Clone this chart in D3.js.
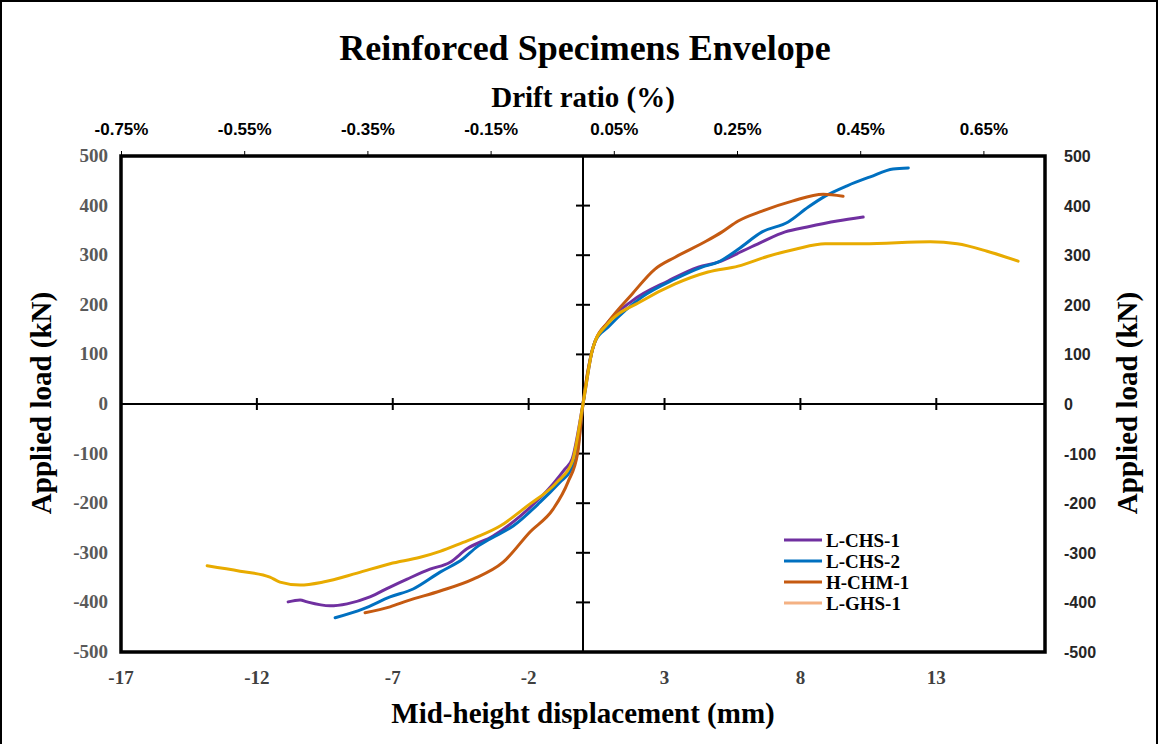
<!DOCTYPE html>
<html>
<head>
<meta charset="utf-8">
<script src="https://cdn.jsdelivr.net/npm/d3@7"></script>
<style>
  body { margin: 0; background: #fff; }
  svg { display: block; }
</style>
</head>
<body>
<svg id="chart" width="1159" height="744"></svg>
<script>
// envelope curves, [displacement mm, load kN]
var lchs1 = [[-10.85,-399],[-10.41,-395],[-10.15,-399],[-9.31,-407],[-8.68,-403],[-7.84,-389],[-7.1,-369],[-6.47,-353],
  [-5.63,-333],[-4.89,-319],[-4.27,-292],[-3.31,-266],[-2.31,-226],[-1.1,-161],[-0.66,-131],[-0.4,-111],[0,0],
  [0.35,110],[0.45,127],[0.85,160],[1.81,208],[3.13,248],[4.24,276],[4.97,286],[5.86,308],[6.59,327],[7.44,347],
  [8.25,357],[9.35,369],[10.31,377]];
var lchs2 = [[-9.12,-431],[-8.09,-413],[-7.1,-389],[-6.25,-373],[-5.26,-339],[-4.41,-312],[-3.9,-288],[-3.42,-272],
  [-2.57,-246],[-1.58,-198],[-0.84,-157],[-0.47,-135],[-0.22,-100],[0,0],[0.35,110],[0.45,127],[0.92,155],
  [2.18,216],[3.39,252],[4.38,276],[4.97,286],[5.71,312],[6.59,347],[7.55,367],[8.29,397],[8.91,419],[9.72,440],
  [10.57,458],[11.41,474],[11.97,476]];
var hchm1 = [[-8.02,-421],[-7.1,-409],[-6.47,-397],[-5.26,-377],[-4.04,-353],[-2.94,-319],[-1.95,-258],[-1.1,-212],
  [-0.55,-157],[-0.2,-100],[0,0],[0.35,110],[0.45,127],[0.92,165],[1.81,222],[2.65,272],[3.39,296],[4.49,327],
  [5.12,347],[5.71,369],[6.59,389],[7.7,409],[8.84,423],[9.57,419]];
var lghs1 = [[-13.83,-326],[-12.62,-337],[-11.52,-349],[-11.15,-359],[-10.41,-365],[-9.56,-359],[-8.31,-341],[-7.1,-322],
  [-5.99,-309],[-5.26,-297],[-4.41,-279],[-3.9,-268],[-3.05,-246],[-2.06,-206],[-0.95,-157],[-0.4,-117],
  [0,0],[0.35,110],[0.45,127],[0.85,158],[2.18,208],[3.39,242],[4.6,266],[5.71,278],[6.81,298],[7.81,312],
  [8.91,323],[10.31,323],[12.78,327],[13.77,323],[14.87,308],[16.01,288]];

var seriesNames = ["L-CHS-1", "L-CHS-2", "H-CHM-1", "L-GHS-1"];
var seriesData = [lchs1, lchs2, hchm1, lghs1];
var lineColors = ["#7030a0", "#0070c0", "#c55a11", "#e8ab00"];
var legendColors = ["#7030a0", "#0070c0", "#c55a11", "#f4b183"];

var xTicks = [-17, -12, -7, -2, 3, 8, 13];
var yTicks = [-500, -400, -300, -200, -100, 0, 100, 200, 300, 400, 500];
var driftTicks = [-0.75, -0.55, -0.35, -0.15, 0.05, 0.25, 0.45, 0.65];

var svg = d3.select("#chart");
var plotL = 121, plotR = 1045, plotT = 156, plotB = 652;

var x = d3.scaleLinear().domain([-17, 17]).range([plotL, plotR]);
var y = d3.scaleLinear().domain([-500, 500]).range([plotB, plotT]);
var drift = d3.scaleLinear().domain([-0.75, 0.75]).range([plotL, plotR]);

var serif = "'Liberation Serif', 'Times New Roman', serif";
var sans = "'Liberation Sans', Arial, sans-serif";
var narrow = "'Liberation Sans Narrow', 'Arial Narrow', sans-serif";

// outer frame
svg.append("rect").attr("x", 1).attr("y", 1).attr("width", 1156).attr("height", 744)
  .attr("fill", "none").attr("stroke", "#000").attr("stroke-width", 2);

svg.append("text").attr("x", 585).attr("y", 60).attr("text-anchor", "middle")
  .style("font-family", serif).style("font-weight", "bold").style("font-size", "36px")
  .text("Reinforced Specimens Envelope");

svg.append("text").attr("x", 583).attr("y", 107).attr("text-anchor", "middle")
  .style("font-family", serif).style("font-weight", "bold").style("font-size", "29px")
  .text("Drift ratio (%)");

// top drift axis
var topAxis = svg.append("g").attr("transform", "translate(0," + plotT + ")")
  .call(d3.axisTop(drift).tickValues(driftTicks).tickSize(5).tickPadding(16)
    .tickFormat(function(d) { return d.toFixed(2) + "%"; }));
topAxis.select(".domain").remove();
topAxis.selectAll("line").attr("stroke", "#000").attr("stroke-width", 1);
topAxis.selectAll("text").style("font-family", narrow).style("font-weight", "bold")
  .style("font-size", "17px").attr("fill", "#000");

// left load labels
svg.append("g").selectAll("text").data(yTicks).enter().append("text")
  .attr("x", 108).attr("y", function(d) { return y(d) + 6; }).attr("text-anchor", "end")
  .style("font-family", serif).style("font-weight", "bold").style("font-size", "19px")
  .attr("fill", "#595959").text(function(d) { return d; });

// right load labels
svg.append("g").selectAll("text").data(yTicks).enter().append("text")
  .attr("x", 1064).attr("y", function(d) { return y(d) + 6; }).attr("text-anchor", "start")
  .style("font-family", sans).style("font-weight", "bold").style("font-size", "16px")
  .attr("fill", "#262626").text(function(d) { return d; });

// bottom displacement labels
svg.append("g").selectAll("text").data(xTicks).enter().append("text")
  .attr("x", function(d) { return x(d); }).attr("y", 684).attr("text-anchor", "middle")
  .style("font-family", serif).style("font-weight", "bold").style("font-size", "19px")
  .attr("fill", "#404040").text(function(d) { return d; });

svg.append("text").attr("x", 583).attr("y", 723).attr("text-anchor", "middle")
  .style("font-family", serif).style("font-weight", "bold").style("font-size", "29px")
  .text("Mid-height displacement (mm)");

svg.append("text").attr("transform", "translate(51,403) rotate(-90)").attr("text-anchor", "middle")
  .style("font-family", serif).style("font-weight", "bold").style("font-size", "29px")
  .text("Applied load (kN)");
svg.append("text").attr("transform", "translate(1137,403) rotate(-90)").attr("text-anchor", "middle")
  .style("font-family", serif).style("font-weight", "bold").style("font-size", "29px")
  .text("Applied load (kN)");

// zero axes with crossing ticks
var g = svg.append("g");
g.append("line").attr("x1", plotL).attr("x2", plotR).attr("y1", y(0)).attr("y2", y(0))
  .attr("stroke", "#000").attr("stroke-width", 2);
g.append("line").attr("x1", x(0)).attr("x2", x(0)).attr("y1", plotT).attr("y2", plotB)
  .attr("stroke", "#000").attr("stroke-width", 2);
g.selectAll(".xt").data(xTicks.filter(function(d) { return d > -17; })).enter().append("line")
  .attr("x1", function(d) { return x(d); }).attr("x2", function(d) { return x(d); })
  .attr("y1", y(0) - 6).attr("y2", y(0) + 6).attr("stroke", "#000").attr("stroke-width", 2);
g.selectAll(".yt").data(yTicks.filter(function(d) { return Math.abs(d) < 500 && d !== 0; })).enter().append("line")
  .attr("x1", x(0) - 7).attr("x2", x(0) + 7)
  .attr("y1", function(d) { return y(d); }).attr("y2", function(d) { return y(d); })
  .attr("stroke", "#000").attr("stroke-width", 2);

// curves
var line = d3.line()
  .x(function(d) { return x(d[0]); })
  .y(function(d) { return y(d[1]); })
  .curve(d3.curveMonotoneX);

svg.append("g").selectAll("path").data(seriesData).enter().append("path")
  .attr("d", line).attr("fill", "none")
  .attr("stroke", function(d, i) { return lineColors[i]; })
  .attr("stroke-width", 3).attr("stroke-linejoin", "round").attr("stroke-linecap", "round");

// plot border
svg.append("rect").attr("x", plotL).attr("y", plotT).attr("width", plotR - plotL).attr("height", plotB - plotT)
  .attr("fill", "none").attr("stroke", "#000").attr("stroke-width", 3.5);

// legend
var legend = svg.append("g").selectAll("g").data(seriesNames).enter().append("g")
  .attr("transform", function(d, i) { return "translate(784," + (540 + i * 21) + ")"; });
legend.append("line").attr("x1", 0).attr("x2", 38).attr("y1", 0).attr("y2", 0)
  .attr("stroke", function(d, i) { return legendColors[i]; }).attr("stroke-width", 3);
legend.append("text").attr("x", 42).attr("y", 7)
  .style("font-family", serif).style("font-weight", "bold").style("font-size", "19px")
  .text(function(d) { return d; });
</script>
</body>
</html>
